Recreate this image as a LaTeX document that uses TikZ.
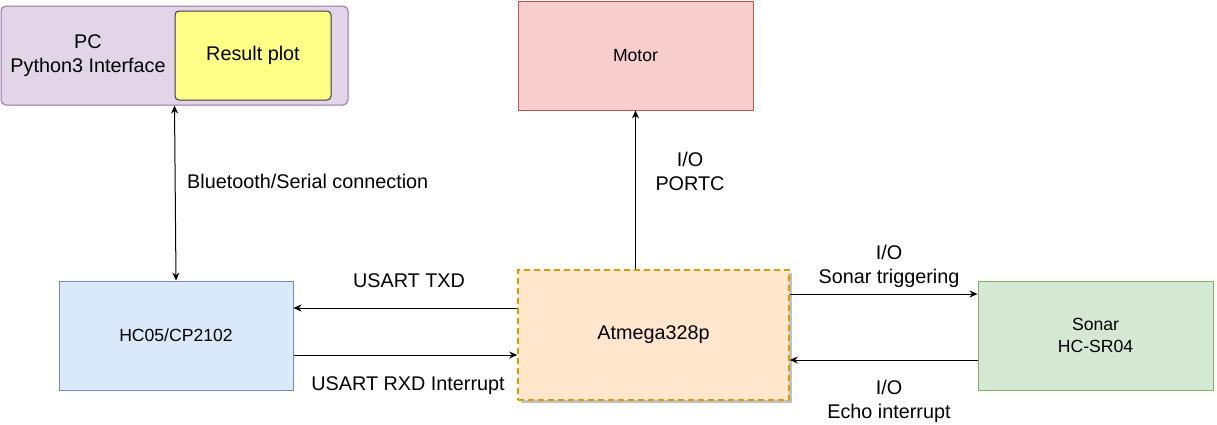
\documentclass[tikz,border=0pt]{standalone}
\usepackage{fontspec}
\setmainfont{Liberation Sans}
\usetikzlibrary{arrows.meta,shadows}
\definecolor{pcfill}{HTML}{E1D5E7}\definecolor{pcdraw}{HTML}{9673A6}
\definecolor{ylfill}{HTML}{FFFF88}\definecolor{yldraw}{HTML}{36393D}
\definecolor{mofill}{HTML}{F8CECC}\definecolor{modraw}{HTML}{B85450}
\definecolor{hcfill}{HTML}{DAE8FC}\definecolor{hcdraw}{HTML}{6C8EBF}
\definecolor{atfill}{HTML}{FFE6CC}\definecolor{atdraw}{HTML}{D79B00}
\definecolor{sofill}{HTML}{D5E8D4}\definecolor{sodraw}{HTML}{82B366}
\begin{document}
\begin{tikzpicture}[x=1pt,y=-1pt,
  box/.style={draw, line width=1pt, minimum width=#1, inner sep=0pt, align=center},
  smallfont/.style={font=\fontsize{17.6}{21.5}\selectfont},
  bigfont/.style={font=\fontsize{19.8}{24}\selectfont},
  lbl/.style={bigfont, align=center, inner sep=0pt},
  arr/.style={line width=1pt, -{Stealth[length=8pt,width=7pt]}},
  darr/.style={line width=1pt, {Stealth[length=8pt,width=7pt]}-{Stealth[length=8pt,width=7pt]}}]
\useasboundingbox (0,0) rectangle (1217,424);
% boxes
\node[box=347pt, minimum height=99pt, fill=pcfill, draw=pcdraw, rounded corners=5pt] (pc) at (174.5,55.5) {};
\node[lbl] (pclabel) at (88,55.5) {PC\\Python3 Interface};
\node[box=156pt, minimum height=89pt, fill=ylfill, draw=yldraw, rounded corners=4pt, bigfont] (res) at (253,55.5) {Result plot};
\node[box=235pt, minimum height=109pt, fill=mofill, draw=modraw, smallfont] (motor) at (635.5,55.5) {Motor};
\node[box=234pt, minimum height=109pt, fill=hcfill, draw=hcdraw, smallfont] (hc) at (176,335.5) {HC05/CP2102};
\node[box=271pt, minimum height=130pt, fill=atfill, draw=atdraw, line width=1.6pt, dash pattern=on 6pt off 4pt,
  drop shadow={shadow xshift=2.5pt, shadow yshift=-2.5pt, fill=black!30, opacity=0.8}, bigfont] (atm) at (653.5,335) {Atmega328p};
\node[box=235pt, minimum height=109pt, fill=sofill, draw=sodraw, smallfont] (sonar) at (1095.5,335.5) {Sonar\\HC-SR04};
% connectors
\draw[darr] (pc.south) -- (hc.north);
\draw[arr] (atm.north -| motor.south) -- (motor.south);
\draw[arr] (atm.west |- 0,308) -- (hc.east |- 0,308);
\draw[arr] (hc.east |- 0,355) -- (atm.west |- 0,355);
\draw[arr] (atm.east |- 0,294) -- (sonar.west |- 0,294);
\draw[arr] (sonar.west |- 0,360) -- (atm.east |- 0,360);
% labels
\node[lbl, anchor=west] (bt) at (187,181) {Bluetooth/Serial connection};
\node[lbl] (portc) at (690,171) {I/O\\PORTC};
\node[lbl] (txd) at (409,281) {USART TXD};
\node[lbl] (rxd) at (408,386) {USART RXD Interrupt};
\node[lbl] (trig) at (889,266) {I/O\\Sonar triggering};
\node[lbl] (echo) at (889,401) {I/O\\Echo interrupt};
\end{tikzpicture}
\end{document}
